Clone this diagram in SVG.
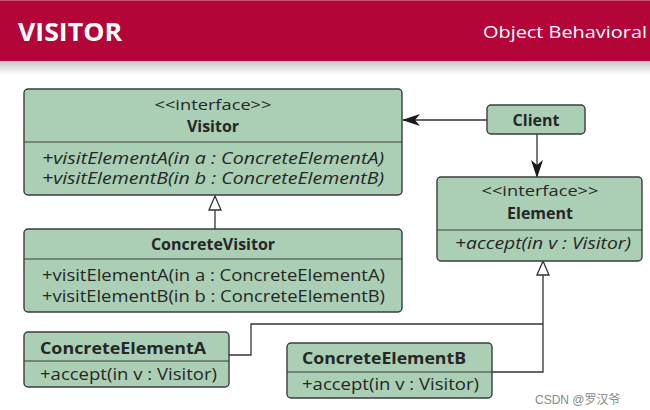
<svg xmlns="http://www.w3.org/2000/svg" width="650" height="410" viewBox="0 0 650 410">
  <defs>
    <linearGradient id="shadow" x1="0" y1="0" x2="0" y2="1">
      <stop offset="0" stop-color="#c8c8c8"/>
      <stop offset="1" stop-color="#ffffff"/>
    </linearGradient>
    <marker id="arrowFilled" viewBox="0 0 18 12" refX="17" refY="6" markerWidth="18" markerHeight="12" markerUnits="userSpaceOnUse" orient="auto">
      <path d="M0,0 L18,6 L0,12 L5,6 Z" fill="#1a1a1a"/>
    </marker>
    <marker id="triangle" viewBox="0 0 16 14" refX="15" refY="7" markerWidth="16" markerHeight="14" markerUnits="userSpaceOnUse" orient="auto">
      <path d="M1,1 L15,7 L1,13 Z" fill="#ffffff" stroke="#333333" stroke-width="1.3"/>
    </marker>
  </defs>
  <style>
    .box { fill: #aacfb4; stroke: #3c3c3c; stroke-width: 1.4; }
    .div { stroke: #3c3c3c; stroke-width: 1.2; }
    .t { font-family: "Open Sans", "Noto Sans", "DejaVu Sans", sans-serif; fill: #262626; font-size: 16px; }
    .s { font-size: 14px; }
    .b { font-weight: bold; font-size: 16px; }
    .i { font-style: italic; }
    .c { text-anchor: middle; }
    .line { fill: none; stroke: #333333; stroke-width: 1.3; }
  </style>
  <rect x="0" y="0" width="650" height="410" fill="#ffffff"/>
  <g id="header">
    <rect x="0" y="61" width="650" height="14" fill="url(#shadow)"/>
    <rect x="0" y="0" width="650" height="61" fill="#b30538"/>
    <rect x="0" y="0" width="650" height="1" fill="#c9506f"/>
    <text x="18" y="41" font-family="'Open Sans', 'Noto Sans', sans-serif" font-weight="bold" font-size="25" fill="#ffffff" textLength="104" lengthAdjust="spacingAndGlyphs">VISITOR</text>
    <text x="483" y="38" font-family="'Open Sans', 'Noto Sans', sans-serif" font-size="17" fill="#ffffff" textLength="164" lengthAdjust="spacingAndGlyphs">Object Behavioral</text>
  </g>
  <g id="connectors">
    <line class="line" x1="487" y1="120" x2="403" y2="120" marker-end="url(#arrowFilled)"/>
    <line class="line" x1="537" y1="134" x2="537" y2="177" marker-end="url(#arrowFilled)"/>
    <line class="line" x1="215" y1="229" x2="215" y2="196" marker-end="url(#triangle)"/>
    <polyline class="line" points="229,355 251,355 251,324 543,324"/>
    <polyline class="line" points="492,372 543,372 543,261" marker-end="url(#triangle)"/>
  </g>
  <g id="visitor">
    <rect class="box" x="24" y="89" width="378" height="106" rx="4"/>
    <line class="div" x1="24" y1="142" x2="402" y2="142"/>
    <text class="t s c" x="213" y="110" textLength="117" lengthAdjust="spacingAndGlyphs">&lt;&lt;interface&gt;&gt;</text>
    <text class="t b c" x="213" y="132">Visitor</text>
    <text class="t i" x="42" y="164" textLength="342" lengthAdjust="spacingAndGlyphs">+visitElementA(in a : ConcreteElementA)</text>
    <text class="t i" x="42" y="184" textLength="342" lengthAdjust="spacingAndGlyphs">+visitElementB(in b : ConcreteElementB)</text>
  </g>
  <g id="client">
    <rect class="box" x="487" y="105" width="98" height="29" rx="4"/>
    <text class="t b c" x="536" y="126">Client</text>
  </g>
  <g id="element">
    <rect class="box" x="437" y="177" width="205" height="84" rx="4"/>
    <line class="div" x1="437" y1="230" x2="642" y2="230"/>
    <text class="t s c" x="540" y="196" textLength="117" lengthAdjust="spacingAndGlyphs">&lt;&lt;interface&gt;&gt;</text>
    <text class="t b c" x="540" y="219">Element</text>
    <text class="t i" x="455" y="249" textLength="176" lengthAdjust="spacingAndGlyphs">+accept(in v : Visitor)</text>
  </g>
  <g id="concreteVisitor">
    <rect class="box" x="24" y="229" width="378" height="83" rx="4"/>
    <line class="div" x1="24" y1="259" x2="402" y2="259"/>
    <text class="t b c" x="213" y="250">ConcreteVisitor</text>
    <text class="t" x="42" y="281" textLength="343" lengthAdjust="spacingAndGlyphs">+visitElementA(in a : ConcreteElementA)</text>
    <text class="t" x="42" y="302" textLength="343" lengthAdjust="spacingAndGlyphs">+visitElementB(in b : ConcreteElementB)</text>
  </g>
  <g id="concreteElementA">
    <rect class="box" x="24" y="332" width="205" height="55" rx="4"/>
    <line class="div" x1="24" y1="361" x2="229" y2="361"/>
    <text class="t b" x="40" y="354" textLength="166" lengthAdjust="spacingAndGlyphs">ConcreteElementA</text>
    <text class="t" x="40" y="380" textLength="177" lengthAdjust="spacingAndGlyphs">+accept(in v : Visitor)</text>
  </g>
  <g id="concreteElementB">
    <rect class="box" x="287" y="343" width="205" height="55" rx="4"/>
    <line class="div" x1="287" y1="372" x2="492" y2="372"/>
    <text class="t b" x="302" y="364" textLength="164" lengthAdjust="spacingAndGlyphs">ConcreteElementB</text>
    <text class="t" x="302" y="390" textLength="177" lengthAdjust="spacingAndGlyphs">+accept(in v : Visitor)</text>
  </g>
  <text x="535" y="404" font-family="'Liberation Sans', 'Noto Sans CJK SC', sans-serif" font-size="12" fill="#8a8a8a">CSDN @罗汉爷</text>
</svg>
